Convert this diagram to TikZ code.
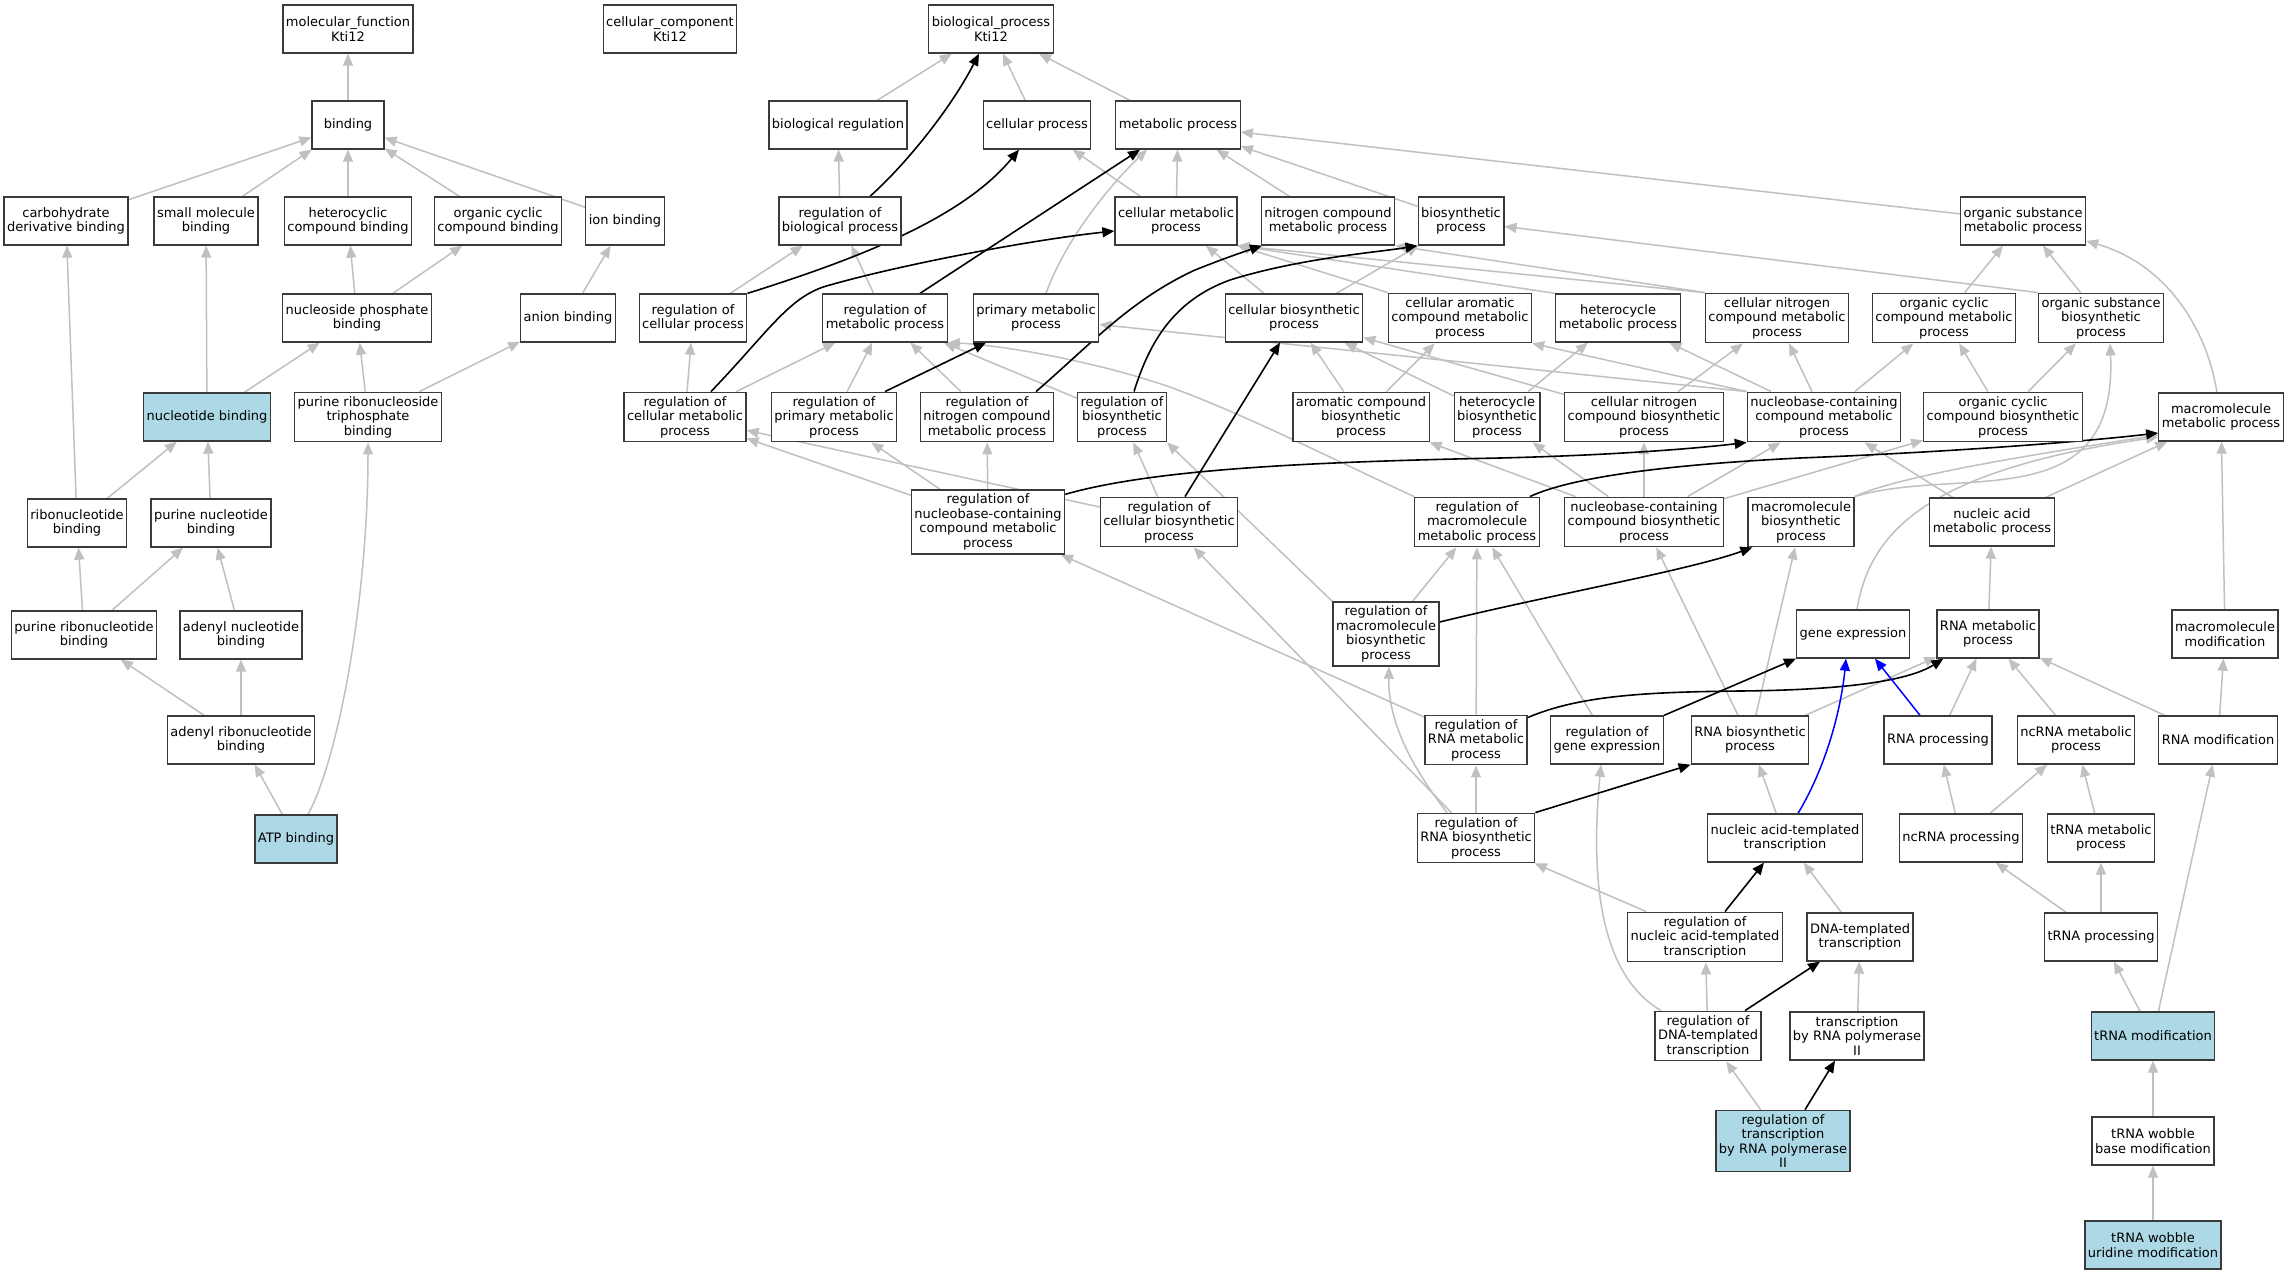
\documentclass[tikz,border=0pt]{standalone}
\usepackage{fontspec}
\setmainfont{DejaVu Sans}
\usepackage{tikz}
\usetikzlibrary{calc, arrows.meta, backgrounds}

\definecolor{edgegray}{HTML}{C0C0C0}
\definecolor{seedblue}{HTML}{ADD8E6}
\definecolor{boxline}{HTML}{3A3A3A}

\tikzset{
	goterm/.style={draw=boxline, line width=1.3pt, fill=white, align=center, inner xsep=3pt, inner ysep=4pt, minimum width=72pt, minimum height=48pt, font=\fontsize{13}{14.5}\selectfont},
	goseed/.style={goterm, fill=seedblue},
	isa/.style={color=edgegray, line width=1.5pt, -{Triangle[length=12pt, width=10pt]}},
	regs/.style={color=black, line width=1.6pt, -{Triangle[length=12pt, width=10pt]}},
	partof/.style={color=blue, line width=1.5pt, -{Triangle[length=12pt, width=10pt]}}
}

\begin{document}
\begin{tikzpicture}[x=1pt, y=-1pt]
			\useasboundingbox (0,0) rectangle (2289,1275);

			% roots
			\node[goterm] (mf) at (348,29) {molecular\_function\\Kti12};
			\node[goterm] (cc) at (670,29) {cellular\_component\\Kti12};
			\node[goterm] (bp) at (991,29) {biological\_process\\Kti12};

			% binding side
			\node[goterm] (binding) at (348,125) {binding};
			\node[goterm] (carb) at (66,221) {carbohydrate\\derivative binding};
			\node[goterm] (smallmol) at (206,221) {small molecule\\binding};
			\node[goterm] (hetcb) at (348,221) {heterocyclic\\compound binding};
			\node[goterm] (occb) at (498,221) {organic cyclic\\compound binding};
			\node[goterm] (ion) at (625,221) {ion binding};
			\node[goterm] (nucphos) at (357,318) {nucleoside phosphate\\binding};
			\node[goterm] (anion) at (568,318) {anion binding};
			\node[goseed] (nucbind) at (207,417) {nucleotide binding};
			\node[goterm] (prtb) at (368,417) {purine ribonucleoside\\triphosphate\\binding};
			\node[goterm] (ribonuc) at (77,523) {ribonucleotide\\binding};
			\node[goterm] (purnuc) at (211,523) {purine nucleotide\\binding};
			\node[goterm] (purribo) at (84,635) {purine ribonucleotide\\binding};
			\node[goterm] (adnuc) at (241,635) {adenyl nucleotide\\binding};
			\node[goterm] (adribo) at (241,740) {adenyl ribonucleotide\\binding};
			\node[goseed] (atp) at (296,839) {ATP binding};

			% process side
			\node[goterm] (bioreg) at (838,125) {biological regulation};
			\node[goterm] (cellproc) at (1037,125) {cellular process};
			\node[goterm] (metproc) at (1178,125) {metabolic process};
			\node[goterm] (regbio) at (840,221) {regulation of\\biological process};
			\node[goterm] (cellmet) at (1176,221) {cellular metabolic\\process};
			\node[goterm] (nitmet) at (1328,221) {nitrogen compound\\metabolic process};
			\node[goterm] (biosyn) at (1461,221) {biosynthetic\\process};
			\node[goterm] (osmet) at (2023,221) {organic substance\\metabolic process};
			\node[goterm] (regcell) at (693,318) {regulation of\\cellular process};
			\node[goterm] (regmet) at (885,318) {regulation of\\metabolic process};
			\node[goterm] (primet) at (1036,318) {primary metabolic\\process};
			\node[goterm] (cellbio) at (1294,318) {cellular biosynthetic\\process};
			\node[goterm] (caromet) at (1460,318) {cellular aromatic\\compound metabolic\\process};
			\node[goterm] (hetmet) at (1618,318) {heterocycle\\metabolic process};
			\node[goterm] (cnitmet) at (1777,318) {cellular nitrogen\\compound metabolic\\process};
			\node[goterm] (ocmet) at (1944,318) {organic cyclic\\compound metabolic\\process};
			\node[goterm] (osbio) at (2101,318) {organic substance\\biosynthetic\\process};
			\node[goterm] (regcellmet) at (685,417) {regulation of\\cellular metabolic\\process};
			\node[goterm] (regprimet) at (834,417) {regulation of\\primary metabolic\\process};
			\node[goterm] (regnitmet) at (987,417) {regulation of\\nitrogen compound\\metabolic process};
			\node[goterm] (regbiosyn) at (1122,417) {regulation of\\biosynthetic\\process};
			\node[goterm] (arobio) at (1361,417) {aromatic compound\\biosynthetic\\process};
			\node[goterm] (hetbio) at (1497,417) {heterocycle\\biosynthetic\\process};
			\node[goterm] (cnitbio) at (1644,417) {cellular nitrogen\\compound biosynthetic\\process};
			\node[goterm] (nbmet) at (1824,417) {nucleobase-containing\\compound metabolic\\process};
			\node[goterm] (ocbio) at (2003,417) {organic cyclic\\compound biosynthetic\\process};
			\node[goterm] (macromet) at (2221,417) {macromolecule\\metabolic process};
			\node[goterm] (regnbmet) at (988,522) {regulation of\\nucleobase-containing\\compound metabolic\\process};
			\node[goterm] (regcellbio) at (1169,522) {regulation of\\cellular biosynthetic\\process};
			\node[goterm] (regmacromet) at (1477,522) {regulation of\\macromolecule\\metabolic process};
			\node[goterm] (nbbio) at (1644,522) {nucleobase-containing\\compound biosynthetic\\process};
			\node[goterm] (macrobio) at (1801,522) {macromolecule\\biosynthetic\\process};
			\node[goterm] (nametab) at (1992,522) {nucleic acid\\metabolic process};
			\node[goterm] (regmacrobio) at (1386,634) {regulation of\\macromolecule\\biosynthetic\\process};
			\node[goterm] (geneexp) at (1853,634) {gene expression};
			\node[goterm] (rnamet) at (1988,634) {RNA metabolic\\process};
			\node[goterm] (macromod) at (2225,634) {macromolecule\\modification};
			\node[goterm] (regrnamet) at (1476,740) {regulation of\\RNA metabolic\\process};
			\node[goterm] (reggene) at (1607,740) {regulation of\\gene expression};
			\node[goterm] (rnabio) at (1750,740) {RNA biosynthetic\\process};
			\node[goterm] (rnaproc) at (1938,740) {RNA processing};
			\node[goterm] (ncrnamet) at (2076,740) {ncRNA metabolic\\process};
			\node[goterm] (rnamod) at (2218,740) {RNA modification};
			\node[goterm] (regrnabio) at (1476,838) {regulation of\\RNA biosynthetic\\process};
			\node[goterm] (natrans) at (1785,838) {nucleic acid-templated\\transcription};
			\node[goterm] (ncrnaproc) at (1961,838) {ncRNA processing};
			\node[goterm] (trnamet) at (2101,838) {tRNA metabolic\\process};
			\node[goterm] (regnatrans) at (1705,937) {regulation of\\nucleic acid-templated\\transcription};
			\node[goterm] (dnatrans) at (1860,937) {DNA-templated\\transcription};
			\node[goterm] (trnaproc) at (2101,937) {tRNA processing};
			\node[goterm] (regdnatrans) at (1708,1036) {regulation of\\DNA-templated\\transcription};
			\node[goterm] (polii) at (1857,1036) {transcription\\by RNA polymerase\\II};
			\node[goseed] (trnamod) at (2153,1036) {tRNA modification};
			\node[goseed] (regpolii) at (1783,1141) {regulation of\\transcription\\by RNA polymerase\\II};
			\node[goterm] (wobble) at (2153,1141) {tRNA wobble\\base modification};
			\node[goseed] (wobbleu) at (2153,1245) {tRNA wobble\\uridine modification};

			\begin{scope}[on background layer]
				\fill[white] (0,0) rectangle (2289,1275);

				% is_a
				\begin{scope}[isa]
					\foreach \a/\b in {binding/mf, carb/binding, smallmol/binding, hetcb/binding, occb/binding, ion/binding,
						nucphos/hetcb, nucphos/occb, anion/ion, nucbind/smallmol, nucbind/nucphos, prtb/nucphos, prtb/anion,
						ribonuc/carb, ribonuc/nucbind, purnuc/nucbind, purribo/ribonuc, purribo/purnuc, adnuc/purnuc,
						adribo/purribo, adribo/adnuc, atp/adribo,
						bioreg/bp, cellproc/bp, metproc/bp, regbio/bioreg, regcell/regbio, regmet/regbio,
						cellmet/cellproc, cellmet/metproc, nitmet/metproc, biosyn/metproc, osmet/metproc,
						regcellmet/regcell, regcellmet/regmet, regprimet/regmet, regnitmet/regmet, regbiosyn/regmet,
						regnbmet/regcellmet, regnbmet/regprimet, regnbmet/regnitmet, regcellbio/regcellmet, regcellbio/regbiosyn,
						cellbio/cellmet, cellbio/biosyn, ocmet/osmet, osbio/osmet,
						arobio/cellbio, arobio/caromet, hetbio/cellbio, hetbio/hetmet, cnitbio/cellbio, cnitbio/cnitmet,
						nbmet/hetmet, nbmet/cnitmet, nbmet/ocmet, ocbio/ocmet, ocbio/osbio,
						nbbio/arobio, nbbio/hetbio, nbbio/cnitbio, nbbio/nbmet, nbbio/ocbio, nametab/nbmet, nametab/macromet,
						regmacrobio/regmacromet, regrnamet/regmacromet, regrnamet/regnbmet, reggene/regmacromet,
						regrnabio/regrnamet, regrnabio/regcellbio, rnabio/nbbio, rnabio/macrobio, rnabio/rnamet,
						rnamet/nametab, macromod/macromet, rnaproc/rnamet, ncrnamet/rnamet, rnamod/rnamet, rnamod/macromod,
						natrans/rnabio, ncrnaproc/rnaproc, ncrnaproc/ncrnamet, trnamet/ncrnamet,
						regnatrans/regrnabio, dnatrans/natrans, regdnatrans/regnatrans, polii/dnatrans, regpolii/regdnatrans,
						trnaproc/ncrnaproc, trnaproc/trnamet, trnamod/trnaproc, trnamod/rnamod, wobble/trnamod, wobbleu/wobble}
					{
						\draw (\a) -- (\b);
					}

					\draw (caromet.north west) -- (cellmet.south east);
					\draw (hetmet.north west) -- (cellmet.south east);
					\draw (cnitmet.north west) -- (cellmet.south east);
					\draw (cnitmet.north west) -- (nitmet.south east);
					\draw (nbmet.north west) -- (caromet.south east);
					\draw (nbmet.north west) -- (primet);
					\draw (osbio.north west) -- (biosyn);
					\draw (regmacrobio.north west) -- (regbiosyn.south east);

					\draw ($(atp.north)+(12,0)$) .. controls (338,760) and (368,600) .. (prtb.south);
					\draw ($(primet.north)+(10,0)$) .. controls (1065,240) and (1110,185) .. ($(metproc.south)+(-31,0)$);
					\draw (regmacromet.north west) .. controls (1330,458) and (1240,412) .. (1167,386) .. controls (1090,360) and (1000,345) .. (regmet.south east);
					\draw ($(regdnatrans.north)+(-47,0)$) .. controls (1600,975) and (1590,880) .. ($(reggene.south)+(-6,0)$);
					\draw ($(regrnabio.north)+(-29,0)$) .. controls (1410,765) and (1388,720) .. ($(regmacrobio.south)+(3,0)$);
					\draw ($(geneexp.north)+(4,0)$) .. controls (1870,530) and (1930,470) .. ($(macromet.west)+(0,20)$);
					\draw (macrobio.north east) .. controls (1900,475) and (2050,452) .. ($(macromet.west)+(0,18)$);
					\draw (macrobio.north east) .. controls (1960,465) and (2118,520) .. ($(osbio.south)+(9,0)$);
					\draw ($(macromet.north)+(-4,0)$) .. controls (2205,320) and (2160,262) .. ($(osmet.east)+(0,20)$);
				\end{scope}

				% regulates
				\begin{scope}[regs]
					\draw ($(regbio.north)+(30,0)$) .. controls (905,165) and (950,110) .. ($(bp.south)+(-12,0)$);
					\draw (regcell.north east) .. controls (870,255) and (965,215) .. ($(cellproc.south)+(-18,0)$);
					\draw ($(regcellmet.north)+(26,0)$) .. controls (770,330) and (790,295) .. (830,285) .. controls (900,265) and (1030,240) .. ($(cellmet.west)+(0,10)$);
					\draw ($(regmet.north)+(35,0)$) -- ($(metproc.south)+(-38,0)$);
					\draw ($(regprimet.north)+(51,0)$) -- ($(primet.south)+(-50,0)$);
					\draw ($(regnitmet.north)+(49,0)$) .. controls (1090,345) and (1130,300) .. (1195,270) .. controls (1220,260) and (1240,253) .. ($(nitmet.south)+(-66,0)$);
					\draw ($(regbiosyn.north)+(12,0)$) .. controls (1150,340) and (1175,300) .. (1230,280) .. controls (1300,258) and (1380,252) .. (biosyn.south west);
					\draw ($(regcellbio.north)+(16,0)$) -- ($(cellbio.south)+(-14,0)$);
					\draw ($(regnbmet.north east)+(0,5)$) .. controls (1150,470) and (1300,462) .. (1500,458) .. controls (1620,455) and (1700,448) .. (nbmet.south west);
					\draw ($(regmacromet.north east)+(-10,0)$) .. controls (1570,478) and (1660,465) .. (1800,458) .. controls (1950,452) and (2080,442) .. ($(macromet.west)+(0,16)$);
					\draw ($(regmacrobio.east)+(0,-12)$) .. controls (1550,595) and (1690,570) .. ($(macrobio.south west)+(5,0)$);
					\draw ($(regrnamet.north east)+(0,3)$) .. controls (1580,695) and (1650,692) .. (1740,691) .. controls (1850,690) and (1910,680) .. ($(rnamet.south west)+(7,0)$);
					\draw (reggene.north east) -- (geneexp.south west);
					\draw (regrnabio.north east) -- (rnabio.south west);
					\draw ($(regnatrans.north)+(20,0)$) -- ($(natrans.south)+(-21,0)$);
					\draw ($(regdnatrans.north)+(37,0)$) -- ($(dnatrans.south)+(-40,0)$);
					\draw ($(regpolii.north)+(22,0)$) -- ($(polii.south)+(-22,0)$);
				\end{scope}

				% part_of
				\begin{scope}[partof]
					\draw ($(natrans.north)+(13,0)$) .. controls (1830,760) and (1842,700) .. ($(geneexp.south)+(-7,0)$);
					\draw ($(rnaproc.north)+(-18,0)$) -- ($(geneexp.south)+(22,0)$);
				\end{scope}
			\end{scope}
		\end{tikzpicture}
\end{document}
